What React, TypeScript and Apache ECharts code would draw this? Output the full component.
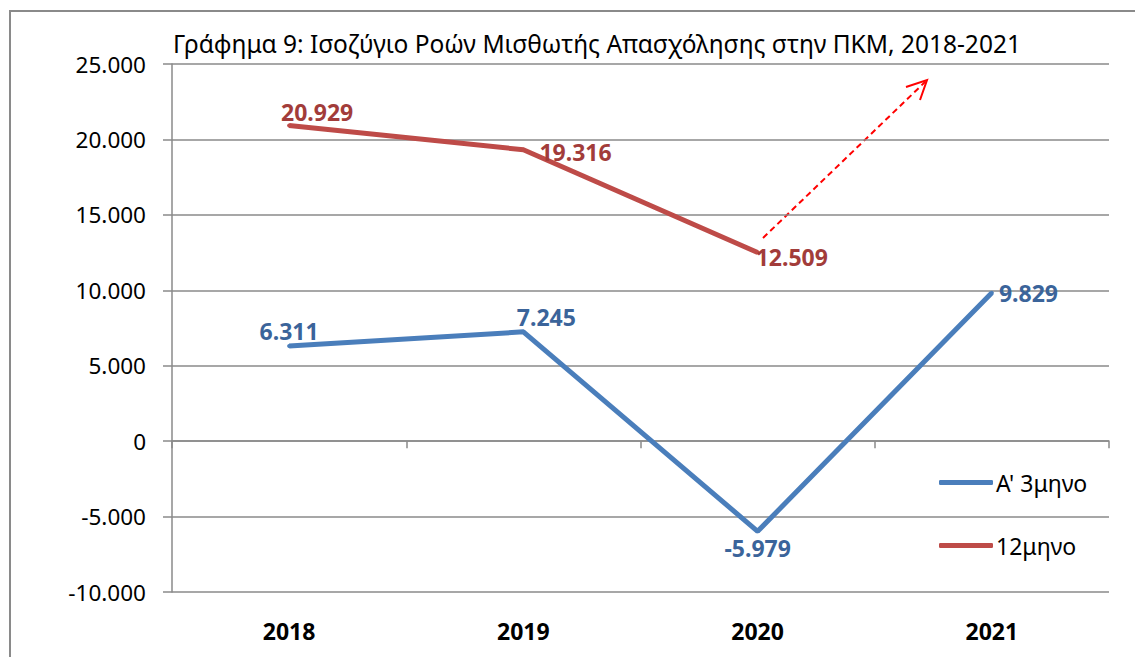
import React, { useEffect, useRef } from "react";
import * as echarts from "echarts";

const categories = ["2018", "2019", "2020", "2021"];
const quarterValues = [6311, 7245, -5979, 9829];
const annualValues = [20929, 19316, 12509];
const seriesNames = ["A' 3μηνο", "12μηνο"];
const yMin = -10000;
const yMax = 25000;
const yStep = 5000;
const titleText = "Γράφημα 9: Ισοζύγιο Ροών Μισθωτής Απασχόλησης στην ΠΚΜ, 2018-2021";

const FONT = "'Noto Sans', 'Open Sans', sans-serif";
const BLUE = "#4a7ebb";
const BLUE_LABEL = "#3b649a";
const RED = "#be4b48";
const RED_LABEL = "#a23c3a";
const GRID = "#8a8a8a";

const fmt = (v: number) => {
  const s = Math.abs(v).toString().replace(/\B(?=(\d{3})+(?!\d))/g, ".");
  return (v < 0 ? "-" : "") + s;
};

const blueLabelPos: any[] = [
  { position: "top", distance: 0, offset: [0, -1] },
  { position: "top", distance: 1, offset: [23, 0] },
  { position: "bottom", distance: 3, offset: [0, 0] },
  { position: "right", distance: 5, offset: [0, 0] },
];
const redLabelPos: any[] = [
  { position: "top", distance: 0, offset: [28, 0] },
  { position: "right", distance: 14, offset: [0, 2] },
  { position: "right", distance: -4, offset: [0, 5] },
];

export default function App() {
  const ref = useRef<HTMLDivElement>(null);
  useEffect(() => {
    if (!ref.current) return;
    const chart = echarts.init(ref.current, null, { renderer: "svg" });
    const labelBase = {
      show: true,
      fontFamily: FONT,
      fontWeight: "bold" as const,
      fontSize: 23,
      formatter: (p: any) => fmt(p.value),
    };
    chart.setOption({
      animation: false,
      backgroundColor: "#ffffff",
      title: {
        text: titleText,
        left: 168,
        top: 26,
        textStyle: { fontFamily: FONT, fontWeight: "normal", fontSize: 24.5, color: "#000" },
      },
      legend: {
        orient: "vertical",
        left: 934,
        top: 466,
        itemGap: 40,
        itemWidth: 54,
        itemHeight: 5,
        icon: "roundRect",
        textStyle: { fontFamily: FONT, fontSize: 23, color: "#000", padding: [0, 0, 0, -2] },
        data: seriesNames,
      },
      grid: { left: 172, right: 26, top: 64, bottom: 65 },
      xAxis: [
        {
          type: "category",
          data: categories,
          position: "bottom",
          axisLine: { show: false, onZero: false },
          axisTick: { show: false },
          axisLabel: {
            margin: 27,
            fontFamily: FONT,
            fontWeight: "bold",
            fontSize: 23,
            color: "#000",
          },
        },
        {
          type: "category",
          data: categories,
          position: "bottom",
          axisLine: { show: true, onZero: true, lineStyle: { color: GRID, width: 1.5 } },
          axisTick: { show: true, length: 7, interval: 0, lineStyle: { color: GRID, width: 1.5 } },
          axisLabel: { show: false },
        },
      ],
      yAxis: {
        type: "value",
        min: yMin,
        max: yMax,
        interval: yStep,
        axisLine: { show: true, lineStyle: { color: GRID, width: 1.5 } },
        axisTick: { show: true, length: 9, lineStyle: { color: GRID, width: 1.5 } },
        splitLine: { show: true, lineStyle: { color: GRID, width: 1.5 } },
        axisLabel: {
          margin: 26,
          fontFamily: FONT,
          fontSize: 22.5,
          color: "#000",
          formatter: (v: number) => fmt(v),
        },
      },
      series: [
        {
          name: seriesNames[0],
          type: "line",
          xAxisIndex: 0,
          symbol: "circle",
          symbolSize: 4,
          lineStyle: { color: BLUE, width: 5 },
          itemStyle: { color: BLUE },
          label: { ...labelBase, color: BLUE_LABEL },
          data: quarterValues.map((v, i) => ({ value: v, label: blueLabelPos[i] })),
        },
        {
          name: seriesNames[1],
          type: "line",
          xAxisIndex: 0,
          symbol: "circle",
          symbolSize: 4,
          lineStyle: { color: RED, width: 5 },
          itemStyle: { color: RED },
          label: { ...labelBase, color: RED_LABEL },
          data: annualValues.map((v, i) => ({ value: v, label: redLabelPos[i] })),
        },
      ],
      graphic: [
        {
          type: "rect",
          shape: { x: 10, y: 11, width: 1140, height: 700 },
          style: { fill: "none", stroke: GRID, lineWidth: 2 },
          silent: true,
        },
        {
          type: "line",
          shape: { x1: 763, y1: 238, x2: 925, y2: 82 },
          style: { stroke: "#ff0000", lineWidth: 2, lineDash: [6, 4] },
          silent: true,
        },
        {
          type: "polyline",
          shape: { points: [[906, 87], [927, 80], [920, 100]] },
          style: { stroke: "#ff0000", lineWidth: 2, fill: "none" },
          silent: true,
        },
      ],
    });
    return () => chart.dispose();
  }, []);
  return (
    <div
      ref={ref}
      style={{ position: "fixed", left: 0, top: 0, width: 1135, height: 657, background: "#fff" }}
    />
  );
}
